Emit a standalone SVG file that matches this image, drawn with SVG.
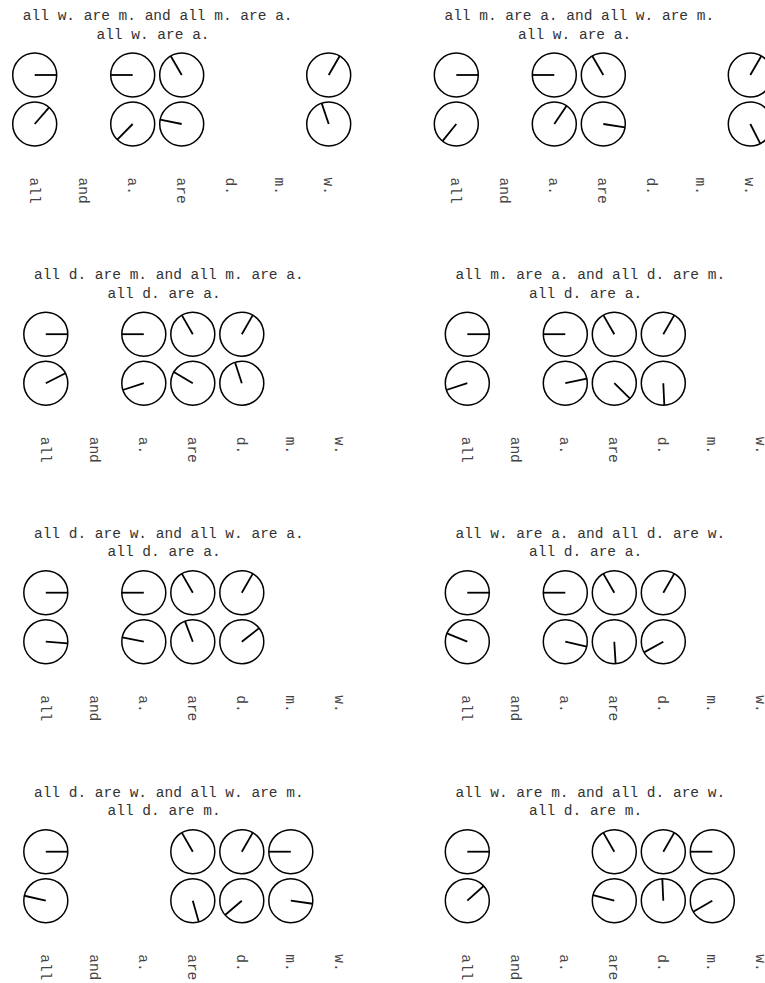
<svg xmlns="http://www.w3.org/2000/svg" width="765" height="983" viewBox="0 0 765 983">
<style>
text{font-family:"Liberation Mono","Courier New",monospace;font-size:14.5px;fill:#333}
.t{text-anchor:middle}
.l{fill:#444}
circle{fill:none;stroke:#000;stroke-width:1.5}
line{stroke:#000;stroke-width:1.8}
</style>
<defs>
<g id="lab">
<text class="l" transform="translate(-5,102.5) rotate(90)">all</text>
<text class="l" transform="translate(44,102.5) rotate(90)">and</text>
<text class="l" transform="translate(93,102.5) rotate(90)">a.</text>
<text class="l" transform="translate(142,102.5) rotate(90)">are</text>
<text class="l" transform="translate(191,102.5) rotate(90)">d.</text>
<text class="l" transform="translate(240,102.5) rotate(90)">m.</text>
<text class="l" transform="translate(289,102.5) rotate(90)">w.</text>
</g>
</defs>

<g id="panel1" transform="translate(34.7,75)">
<text class="t" x="123" y="-55">all w. are m. and all m. are a.</text>
<text class="t" x="118.3" y="-36.5">all w. are a.</text>
<g id="p1-all-0" transform="translate(0,0)"><circle r="22"/><line x2="22" transform="rotate(0)"/></g>
<g id="p1-a-0" transform="translate(98,0)"><circle r="22"/><line x2="22" transform="rotate(-180)"/></g>
<g id="p1-are-0" transform="translate(147,0)"><circle r="22"/><line x2="22" transform="rotate(-120)"/></g>
<g id="p1-w-0" transform="translate(294,0)"><circle r="22"/><line x2="22" transform="rotate(-60)"/></g>
<g id="p1-all-1" transform="translate(0,49)"><circle r="22"/><line x2="22" transform="rotate(-49)"/></g>
<g id="p1-a-1" transform="translate(98,49)"><circle r="22"/><line x2="22" transform="rotate(-225.6)"/></g>
<g id="p1-are-1" transform="translate(147,49)"><circle r="22"/><line x2="22" transform="rotate(-168.7)"/></g>
<g id="p1-w-1" transform="translate(294,49)"><circle r="22"/><line x2="22" transform="rotate(-108.7)"/></g>
<use href="#lab"/>
</g>

<g id="panel2" transform="translate(456.3,75)">
<text class="t" x="123" y="-55">all m. are a. and all w. are m.</text>
<text class="t" x="118.3" y="-36.5">all w. are a.</text>
<g id="p2-all-0" transform="translate(0,0)"><circle r="22"/><line x2="22" transform="rotate(0)"/></g>
<g id="p2-a-0" transform="translate(98,0)"><circle r="22"/><line x2="22" transform="rotate(-180)"/></g>
<g id="p2-are-0" transform="translate(147,0)"><circle r="22"/><line x2="22" transform="rotate(-120)"/></g>
<g id="p2-w-0" transform="translate(294,0)"><circle r="22"/><line x2="22" transform="rotate(-60)"/></g>
<g id="p2-all-1" transform="translate(0,49)"><circle r="22"/><line x2="22" transform="rotate(-231)"/></g>
<g id="p2-a-1" transform="translate(98,49)"><circle r="22"/><line x2="22" transform="rotate(-56)"/></g>
<g id="p2-are-1" transform="translate(147,49)"><circle r="22"/><line x2="22" transform="rotate(-351)"/></g>
<g id="p2-w-1" transform="translate(294,49)"><circle r="22"/><line x2="22" transform="rotate(-297)"/></g>
<use href="#lab"/>
</g>

<g id="panel3" transform="translate(45.8,334.2)">
<text class="t" x="123" y="-55">all d. are m. and all m. are a.</text>
<text class="t" x="118.3" y="-36.5">all d. are a.</text>
<g id="p3-all-0" transform="translate(0,0)"><circle r="22"/><line x2="22" transform="rotate(0)"/></g>
<g id="p3-a-0" transform="translate(98,0)"><circle r="22"/><line x2="22" transform="rotate(-180)"/></g>
<g id="p3-are-0" transform="translate(147,0)"><circle r="22"/><line x2="22" transform="rotate(-120)"/></g>
<g id="p3-d-0" transform="translate(196,0)"><circle r="22"/><line x2="22" transform="rotate(-60)"/></g>
<g id="p3-all-1" transform="translate(0,49)"><circle r="22"/><line x2="22" transform="rotate(-27)"/></g>
<g id="p3-a-1" transform="translate(98,49)"><circle r="22"/><line x2="22" transform="rotate(-198)"/></g>
<g id="p3-are-1" transform="translate(147,49)"><circle r="22"/><line x2="22" transform="rotate(-149.6)"/></g>
<g id="p3-d-1" transform="translate(196,49)"><circle r="22"/><line x2="22" transform="rotate(-108)"/></g>
<use href="#lab"/>
</g>

<g id="panel4" transform="translate(467.3,334.2)">
<text class="t" x="123" y="-55">all m. are a. and all d. are m.</text>
<text class="t" x="118.3" y="-36.5">all d. are a.</text>
<g id="p4-all-0" transform="translate(0,0)"><circle r="22"/><line x2="22" transform="rotate(0)"/></g>
<g id="p4-a-0" transform="translate(98,0)"><circle r="22"/><line x2="22" transform="rotate(-180)"/></g>
<g id="p4-are-0" transform="translate(147,0)"><circle r="22"/><line x2="22" transform="rotate(-120)"/></g>
<g id="p4-d-0" transform="translate(196,0)"><circle r="22"/><line x2="22" transform="rotate(-60)"/></g>
<g id="p4-all-1" transform="translate(0,49)"><circle r="22"/><line x2="22" transform="rotate(-198)"/></g>
<g id="p4-a-1" transform="translate(98,49)"><circle r="22"/><line x2="22" transform="rotate(-12)"/></g>
<g id="p4-are-1" transform="translate(147,49)"><circle r="22"/><line x2="22" transform="rotate(-315.6)"/></g>
<g id="p4-d-1" transform="translate(196,49)"><circle r="22"/><line x2="22" transform="rotate(-272.6)"/></g>
<use href="#lab"/>
</g>

<g id="panel5" transform="translate(45.8,592.7)">
<text class="t" x="123" y="-55">all d. are w. and all w. are a.</text>
<text class="t" x="118.3" y="-36.5">all d. are a.</text>
<g id="p5-all-0" transform="translate(0,0)"><circle r="22"/><line x2="22" transform="rotate(0)"/></g>
<g id="p5-a-0" transform="translate(98,0)"><circle r="22"/><line x2="22" transform="rotate(-180)"/></g>
<g id="p5-are-0" transform="translate(147,0)"><circle r="22"/><line x2="22" transform="rotate(-120)"/></g>
<g id="p5-d-0" transform="translate(196,0)"><circle r="22"/><line x2="22" transform="rotate(-60)"/></g>
<g id="p5-all-1" transform="translate(0,49)"><circle r="22"/><line x2="22" transform="rotate(-355.7)"/></g>
<g id="p5-a-1" transform="translate(98,49)"><circle r="22"/><line x2="22" transform="rotate(-168.9)"/></g>
<g id="p5-are-1" transform="translate(147,49)"><circle r="22"/><line x2="22" transform="rotate(-111)"/></g>
<g id="p5-d-1" transform="translate(196,49)"><circle r="22"/><line x2="22" transform="rotate(-38)"/></g>
<use href="#lab"/>
</g>

<g id="panel6" transform="translate(467.3,592.7)">
<text class="t" x="123" y="-55">all w. are a. and all d. are w.</text>
<text class="t" x="118.3" y="-36.5">all d. are a.</text>
<g id="p6-all-0" transform="translate(0,0)"><circle r="22"/><line x2="22" transform="rotate(0)"/></g>
<g id="p6-a-0" transform="translate(98,0)"><circle r="22"/><line x2="22" transform="rotate(-180)"/></g>
<g id="p6-are-0" transform="translate(147,0)"><circle r="22"/><line x2="22" transform="rotate(-120)"/></g>
<g id="p6-d-0" transform="translate(196,0)"><circle r="22"/><line x2="22" transform="rotate(-60)"/></g>
<g id="p6-all-1" transform="translate(0,49)"><circle r="22"/><line x2="22" transform="rotate(-158)"/></g>
<g id="p6-a-1" transform="translate(98,49)"><circle r="22"/><line x2="22" transform="rotate(-347)"/></g>
<g id="p6-are-1" transform="translate(147,49)"><circle r="22"/><line x2="22" transform="rotate(-273.4)"/></g>
<g id="p6-d-1" transform="translate(196,49)"><circle r="22"/><line x2="22" transform="rotate(-209)"/></g>
<use href="#lab"/>
</g>

<g id="panel7" transform="translate(45.8,851.7)">
<text class="t" x="123" y="-55">all d. are w. and all w. are m.</text>
<text class="t" x="118.3" y="-36.5">all d. are m.</text>
<g id="p7-all-0" transform="translate(0,0)"><circle r="22"/><line x2="22" transform="rotate(0)"/></g>
<g id="p7-are-0" transform="translate(147,0)"><circle r="22"/><line x2="22" transform="rotate(-120)"/></g>
<g id="p7-d-0" transform="translate(196,0)"><circle r="22"/><line x2="22" transform="rotate(-60)"/></g>
<g id="p7-m-0" transform="translate(245,0)"><circle r="22"/><line x2="22" transform="rotate(-180)"/></g>
<g id="p7-all-1" transform="translate(0,49)"><circle r="22"/><line x2="22" transform="rotate(-167)"/></g>
<g id="p7-are-1" transform="translate(147,49)"><circle r="22"/><line x2="22" transform="rotate(-285.7)"/></g>
<g id="p7-d-1" transform="translate(196,49)"><circle r="22"/><line x2="22" transform="rotate(-220.6)"/></g>
<g id="p7-m-1" transform="translate(245,49)"><circle r="22"/><line x2="22" transform="rotate(-352)"/></g>
<use href="#lab"/>
</g>

<g id="panel8" transform="translate(467.3,851.7)">
<text class="t" x="123" y="-55">all w. are m. and all d. are w.</text>
<text class="t" x="118.3" y="-36.5">all d. are m.</text>
<g id="p8-all-0" transform="translate(0,0)"><circle r="22"/><line x2="22" transform="rotate(0)"/></g>
<g id="p8-are-0" transform="translate(147,0)"><circle r="22"/><line x2="22" transform="rotate(-120)"/></g>
<g id="p8-d-0" transform="translate(196,0)"><circle r="22"/><line x2="22" transform="rotate(-60)"/></g>
<g id="p8-m-0" transform="translate(245,0)"><circle r="22"/><line x2="22" transform="rotate(-180)"/></g>
<g id="p8-all-1" transform="translate(0,49)"><circle r="22"/><line x2="22" transform="rotate(-42)"/></g>
<g id="p8-are-1" transform="translate(147,49)"><circle r="22"/><line x2="22" transform="rotate(-165)"/></g>
<g id="p8-d-1" transform="translate(196,49)"><circle r="22"/><line x2="22" transform="rotate(-92.6)"/></g>
<g id="p8-m-1" transform="translate(245,49)"><circle r="22"/><line x2="22" transform="rotate(-210)"/></g>
<use href="#lab"/>
</g>

<g id="connectors"/>
</svg>
